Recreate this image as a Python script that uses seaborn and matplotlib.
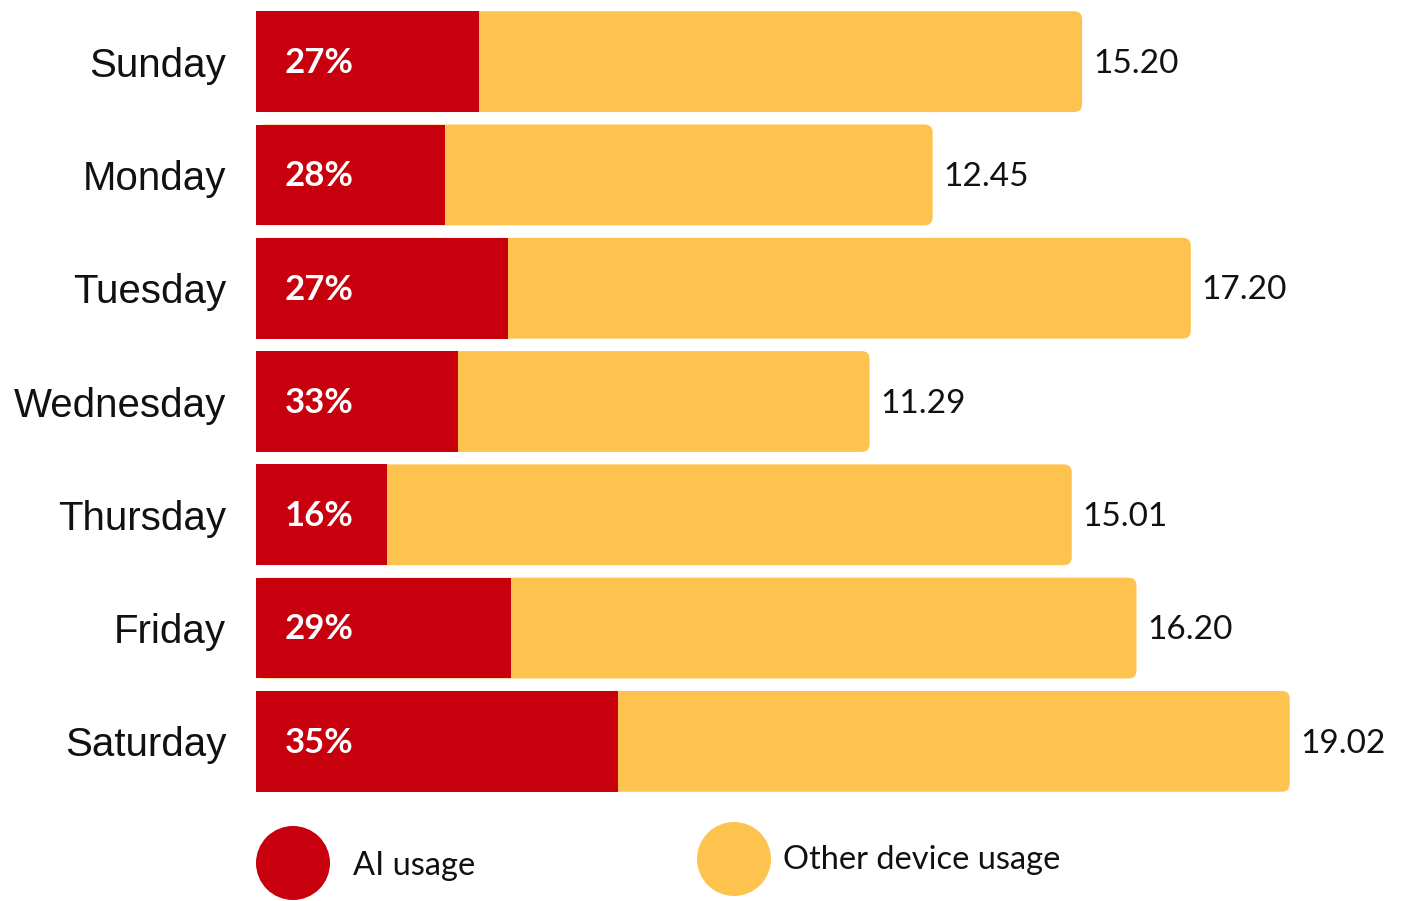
import matplotlib
matplotlib.use("Agg")
import matplotlib.pyplot as plt
import seaborn as sns
import pandas as pd
from matplotlib.patches import FancyBboxPatch, Circle

# ---- data ----
days = ["Sunday", "Monday", "Tuesday", "Wednesday", "Thursday", "Friday", "Saturday"]
totals = [15.20, 12.45, 17.20, 11.29, 15.01, 16.20, 19.02]
ai_pct = [27, 28, 27, 33, 16, 29, 35]
legend_labels = ["AI usage", "Other device usage"]

RED = "#C8000E"
YELLOW = "#FEC34F"

df = pd.DataFrame({
    "day": days,
    "total": totals,
    "ai": [t * p / 100 for t, p in zip(totals, ai_pct)],
})

sns.set_theme(style="white")
plt.rcParams["font.family"] = ["Lato", "DejaVu Sans"]

W, H = 1401, 901
fig = plt.figure(figsize=(W / 100, H / 100), dpi=100)
ax_left, ax_right, ax_top, ax_bot = 256, 1401, 5, 798
ax = fig.add_axes([ax_left / W, (H - ax_bot) / H, (ax_right - ax_left) / W, (ax_bot - ax_top) / H])

px_per_x = 54.35
xmax = (ax_right - ax_left) / px_per_x
px_per_y = (ax_bot - ax_top) / 7.0

# yellow total bars
sns.barplot(data=df, x="total", y="day", orient="h", color=YELLOW, width=0.89,
            saturation=1, ax=ax, zorder=1, linewidth=0, edgecolor="none")
r = 8 / px_per_x
aspect = (1 / px_per_y) / (1 / px_per_x)
for p in list(ax.patches):
    x0, y0, w, h = p.get_x(), p.get_y(), p.get_width(), p.get_height()
    p.remove()
    ax.add_patch(FancyBboxPatch((x0, y0), w, h,
                                boxstyle=f"round,pad=0,rounding_size={r}",
                                mutation_aspect=aspect, fc=YELLOW, ec="none",
                                lw=0, zorder=1))

# red AI bars
sns.barplot(data=df, x="ai", y="day", orient="h", color=RED, width=0.89,
            saturation=1, ax=ax, zorder=2, linewidth=0, edgecolor="none")

ax.set_xlim(0, xmax)
ax.set_ylim(6.5, -0.5)
for s in ax.spines.values():
    s.set_visible(False)
ax.set_xticks([])
ax.set_xlabel("")
ax.set_ylabel("")
ax.tick_params(axis="y", length=0, pad=21.5)
for lbl in ax.get_yticklabels():
    lbl.set_fontfamily(["Liberation Sans", "DejaVu Sans"])
    lbl.set_fontsize(29)
    lbl.set_color("#111111")

for i, (t, pct) in enumerate(zip(totals, ai_pct)):
    ax.annotate(f"{t:.2f}", xy=(t, i), xytext=(7.9, -1.6), textcoords="offset points",
                ha="left", va="center", fontsize=24, color="#111111")
    ax.annotate(f"{pct}%", xy=(0, i), xytext=(20.6, -1), textcoords="offset points",
                ha="left", va="center", fontsize=25, fontweight="bold", color="white", zorder=5)

# legend overlay in pixel coordinates
lax = fig.add_axes([0, 0, 1, 1])
lax.set_xlim(0, W)
lax.set_ylim(H, 0)
lax.axis("off")
lax.patch.set_visible(False)
lax.add_patch(Circle((293, 863), 37, fc=RED, ec="none"))
lax.add_patch(Circle((734, 859), 37, fc=YELLOW, ec="none"))
lax.text(353, 875, legend_labels[0], ha="left", va="baseline", fontsize=23.5, color="#111111")
lax.text(783, 869, legend_labels[1], ha="left", va="baseline", fontsize=23.5, color="#111111")

fig.savefig("out.png", dpi=100)
